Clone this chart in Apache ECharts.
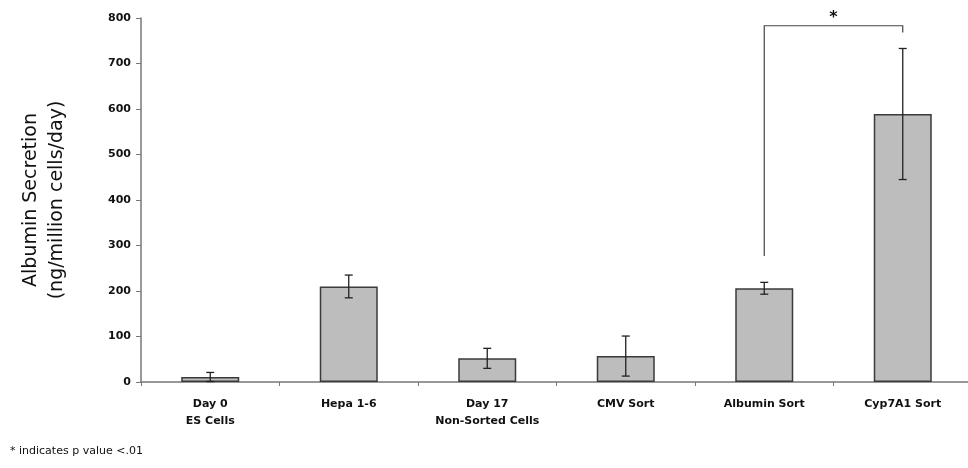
<!DOCTYPE html>
<html>
<head>
<meta charset="utf-8">
<script src="https://cdn.jsdelivr.net/npm/echarts@6/dist/echarts.min.js"></script>
<style>
  html, body { margin: 0; padding: 0; background: #fff; }
  #chart { width: 968px; height: 468px; }
</style>
</head>
<body>
<div id="chart"></div>
<script>
// categories and values
const categories = ['Day 0\nES Cells', 'Hepa 1-6', 'Day 17\nNon-Sorted Cells', 'CMV Sort', 'Albumin Sort', 'Cyp7A1 Sort'];
const means = [11, 210, 52, 57, 206, 589];
const errors = [10, 25, 22, 44, 13, 144];
// significance bracket: [category index, bottom value] for each leg, bracket top value
const bracketLegs = [[4, 277], [5, 768]];
const bracketTop = 783;

const chart = echarts.init(document.getElementById('chart'));
const font = 'DejaVu Sans';

const errData = means.map((m, i) => [i, m - errors[i], m + errors[i]]);

chart.setOption({
  animation: false,
  grid: { left: 141, right: -4, top: 18, bottom: 86, outerBoundsMode: 'none', containLabel: false },
  xAxis: {
    type: 'category',
    data: categories,
    axisLine: { lineStyle: { color: '#777', width: 1.5 } },
    axisTick: { show: true, length: 4, lineStyle: { color: '#777' } },
    axisLabel: {
      color: '#111', fontFamily: font, fontWeight: 'bold', fontSize: 11,
      lineHeight: 17, margin: 14, interval: 0
    }
  },
  yAxis: {
    type: 'value',
    min: 0, max: 800, interval: 100,
    name: 'Albumin Secretion\n(ng/million cells/day)',
    nameLocation: 'middle',
    nameGap: 71,
    nameTextStyle: { color: '#111', fontFamily: font, fontSize: 19, lineHeight: 26 },
    axisLine: { show: true, lineStyle: { color: '#777', width: 1.5 } },
    axisTick: { show: true, length: 5, lineStyle: { color: '#777' } },
    splitLine: { show: false },
    axisLabel: { color: '#111', fontFamily: font, fontWeight: 'bold', fontSize: 11, margin: 10 }
  },
  graphic: [{
    type: 'text', left: 10, top: 446,
    style: { text: '* indicates p value <.01', fill: '#111', font: '11px "DejaVu Sans"' }
  }],
  series: [
    {
      type: 'bar',
      data: means,
      barWidth: 58,
      itemStyle: { color: '#bdbdbd', borderColor: '#3a3a3a', borderWidth: 1.5 }
    },
    {
      type: 'custom',
      data: errData,
      z: 5,
      renderItem: function (params, api) {
        const x = api.value(0);
        const lo = api.coord([x, api.value(1)]);
        const hi = api.coord([x, api.value(2)]);
        const w = 4;
        const st = { stroke: '#222', lineWidth: 1.3 };
        return {
          type: 'group',
          children: [
            { type: 'line', shape: { x1: hi[0], y1: hi[1], x2: lo[0], y2: lo[1] }, style: st },
            { type: 'line', shape: { x1: hi[0] - w, y1: hi[1], x2: hi[0] + w, y2: hi[1] }, style: st },
            { type: 'line', shape: { x1: lo[0] - w, y1: lo[1], x2: lo[0] + w, y2: lo[1] }, style: st }
          ]
        };
      }
    },
    {
      type: 'custom',
      data: [0],
      z: 5,
      renderItem: function (params, api) {
        const a = api.coord(bracketLegs[0]);
        const b = api.coord(bracketLegs[1]);
        const at = api.coord([bracketLegs[0][0], bracketTop]);
        const bt = api.coord([bracketLegs[1][0], bracketTop]);
        const st = { stroke: '#444', lineWidth: 1.2, fill: null };
        return {
          type: 'group',
          children: [
            { type: 'polyline', shape: { points: [a, at, bt, b] }, style: st },
            {
              type: 'text',
              style: {
                text: '*', x: (at[0] + bt[0]) / 2, y: at[1] - 8,
                fill: '#111', font: 'bold 16px "DejaVu Sans"', align: 'center', verticalAlign: 'middle'
              }
            }
          ]
        };
      }
    }
  ]
});
</script>
</body>
</html>
